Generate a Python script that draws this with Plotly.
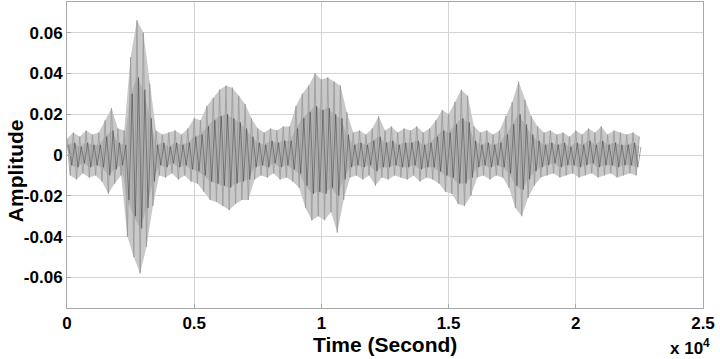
import plotly.graph_objects as go

# ---- data ----
# light (full) waveform: upper peaks every 250 samples starting at 0,
# lower peaks every 250 samples starting at 125
STEP = 250
upper = [0.008, 0.011, 0.009, 0.012, 0.010, 0.011, 0.017, 0.023, 0.013, 0.012,
         0.048, 0.066, 0.060, 0.035, 0.012, 0.010, 0.011, 0.012, 0.010, 0.013,
         0.018, 0.017, 0.024, 0.028, 0.032, 0.034, 0.033, 0.029, 0.025, 0.018,
         0.013, 0.011, 0.013, 0.012, 0.014, 0.014, 0.024, 0.030, 0.034, 0.040,
         0.037, 0.038, 0.036, 0.034, 0.021, 0.011, 0.012, 0.010, 0.013, 0.019,
         0.012, 0.014, 0.011, 0.013, 0.012, 0.014, 0.011, 0.013, 0.017, 0.022,
         0.020, 0.026, 0.032, 0.029, 0.014, 0.011, 0.012, 0.010, 0.012, 0.019,
         0.026, 0.036, 0.027, 0.019, 0.014, 0.011, 0.012, 0.010, 0.011, 0.009,
         0.012, 0.010, 0.013, 0.011, 0.014, 0.010, 0.012, 0.011, 0.010, 0.011,
         0.009]
lower = [-0.010, -0.012, -0.009, -0.011, -0.010, -0.013, -0.019, -0.014, -0.010, -0.040,
         -0.050, -0.058, -0.045, -0.025, -0.010, -0.011, -0.009, -0.012, -0.010, -0.013,
         -0.014, -0.018, -0.022, -0.023, -0.025, -0.027, -0.024, -0.022, -0.022, -0.012,
         -0.010, -0.011, -0.009, -0.012, -0.011, -0.013, -0.016, -0.026, -0.032, -0.030,
         -0.032, -0.028, -0.038, -0.022, -0.011, -0.010, -0.012, -0.010, -0.015, -0.011,
         -0.012, -0.010, -0.011, -0.012, -0.010, -0.013, -0.011, -0.012, -0.014, -0.018,
         -0.019, -0.024, -0.025, -0.020, -0.011, -0.010, -0.012, -0.010, -0.011, -0.016,
         -0.026, -0.030, -0.021, -0.015, -0.011, -0.010, -0.009, -0.011, -0.010, -0.009,
         -0.011, -0.010, -0.009, -0.011, -0.010, -0.009, -0.011, -0.010, -0.009, -0.010]

# dark (inner) waveform
dark_upper = [0.005, 0.006, 0.004, 0.006, 0.005, 0.005, 0.009, 0.012, 0.006, 0.005,
              0.030, 0.038, 0.032, 0.018, 0.005, 0.006, 0.004, 0.006, 0.005, 0.006,
              0.009, 0.010, 0.014, 0.017, 0.019, 0.020, 0.018, 0.016, 0.013, 0.009,
              0.006, 0.005, 0.007, 0.006, 0.007, 0.007, 0.013, 0.018, 0.021, 0.024,
              0.022, 0.023, 0.020, 0.018, 0.010, 0.005, 0.006, 0.005, 0.007, 0.009,
              0.006, 0.007, 0.005, 0.006, 0.006, 0.007, 0.005, 0.006, 0.009, 0.012,
              0.011, 0.015, 0.018, 0.016, 0.007, 0.005, 0.006, 0.005, 0.006, 0.010,
              0.015, 0.020, 0.015, 0.010, 0.007, 0.005, 0.006, 0.005, 0.006, 0.004,
              0.006, 0.005, 0.007, 0.005, 0.007, 0.005, 0.006, 0.005, 0.005, 0.006,
              0.004]
dark_lower = [-0.005, -0.006, -0.004, -0.006, -0.005, -0.006, -0.010, -0.007, -0.005, -0.022,
              -0.030, -0.036, -0.026, -0.013, -0.005, -0.006, -0.004, -0.006, -0.005, -0.007,
              -0.008, -0.010, -0.013, -0.014, -0.015, -0.016, -0.014, -0.013, -0.012, -0.006,
              -0.005, -0.006, -0.004, -0.006, -0.005, -0.007, -0.009, -0.015, -0.019, -0.018,
              -0.019, -0.016, -0.020, -0.012, -0.006, -0.005, -0.006, -0.005, -0.008, -0.006,
              -0.006, -0.005, -0.006, -0.006, -0.005, -0.007, -0.006, -0.006, -0.008, -0.010,
              -0.011, -0.014, -0.014, -0.011, -0.006, -0.005, -0.006, -0.005, -0.006, -0.009,
              -0.015, -0.017, -0.012, -0.008, -0.006, -0.005, -0.004, -0.006, -0.005, -0.005,
              -0.006, -0.005, -0.004, -0.006, -0.005, -0.005, -0.006, -0.005, -0.005, -0.006]

x_tickvals = [0, 5000, 10000, 15000, 20000, 25000]
x_ticktext = ["0", "0.5", "1", "1.5", "2", "2.5"]
y_tickvals = [-0.06, -0.04, -0.02, 0, 0.02, 0.04, 0.06]
y_ticktext = ["-0.06", "-0.04", "-0.02", "0", "0.02", "0.04", "0.06"]


def zigzag(up, lo, step, offset=0):
    xs, ys = [], []
    for i, u in enumerate(up):
        xs.append(offset + i * step)
        ys.append(u)
        if i < len(lo):
            xs.append(offset + i * step + step / 2)
            ys.append(lo[i])
    return xs, ys


def envelope(up, lo, step):
    xs = [i * step for i in range(len(up))] + [i * step + step / 2 for i in range(len(lo))][::-1]
    ys = list(up) + list(lo)[::-1]
    return xs, ys


fig = go.Figure()

ex, ey = envelope(upper, lower, STEP)
fig.add_trace(go.Scatter(x=ex, y=ey, mode="lines", fill="toself",
                         fillcolor="#c9c9c9", line=dict(width=0), hoverinfo="skip",
                         showlegend=False))

dex, dey = envelope(dark_upper, dark_lower, STEP)
fig.add_trace(go.Scatter(x=dex, y=dey, mode="lines", fill="toself",
                         fillcolor="#b2b2b2", line=dict(width=0), hoverinfo="skip",
                         showlegend=False))

lx, ly = zigzag(upper, lower, STEP)
fig.add_trace(go.Scatter(x=lx, y=ly, mode="lines",
                         line=dict(color="#999999", width=0.8), showlegend=False))

dx, dy = zigzag(dark_upper, dark_lower, STEP, offset=STEP / 4)
fig.add_trace(go.Scatter(x=dx, y=dy, mode="lines",
                         line=dict(color="rgba(40,40,40,0.6)", width=0.7),
                         showlegend=False))

FONT = "Liberation Sans, Arial, sans-serif"
axis_font = dict(family=FONT, size=17, color="black", weight="bold")

fig.update_layout(
    width=720, height=359,
    margin=dict(l=67, r=17, t=2, b=51),
    paper_bgcolor="white", plot_bgcolor="white",
    showlegend=False,
    xaxis=dict(range=[0, 25000], tickvals=x_tickvals, ticktext=x_ticktext,
               showgrid=True, gridcolor="#d4d4d4", gridwidth=1,
               zeroline=False, showline=True, linecolor="#a8a8a8", mirror=True,
               ticks="inside", ticklen=4, tickcolor="#a8a8a8",
               tickfont=axis_font),
    yaxis=dict(range=[-0.075, 0.075], tickvals=y_tickvals, ticktext=y_ticktext,
               showgrid=True, gridcolor="#d4d4d4", gridwidth=1,
               zeroline=False, showline=True, linecolor="#a8a8a8", mirror=True,
               ticks="inside", ticklen=4, tickcolor="#a8a8a8",
               tickfont=axis_font),
    font=dict(family=FONT, color="black"),
    annotations=[
        dict(text="<b>Time (Second)</b>", xref="paper", yref="paper",
             x=0.5, y=-0.12, xanchor="center", yanchor="middle", showarrow=False,
             borderpad=0, font=dict(size=21, family=FONT)),
        dict(text="<b>Amplitude</b>", xref="paper", yref="paper",
             x=-0.082, y=0.45, xanchor="center", yanchor="middle", textangle=-90,
             showarrow=False, borderpad=0,
             font=dict(size=21, family=FONT)),
        dict(text="<b>x 10<sup>4</sup></b>", xref="paper", yref="paper",
             x=1.0126, y=-0.128, xanchor="right", yanchor="middle", showarrow=False,
             borderpad=0, font=dict(size=17, family=FONT)),
    ],
)

fig.write_html("out.html", config={"displayModeBar": False},
               post_script="document.body.style.margin='0';")
